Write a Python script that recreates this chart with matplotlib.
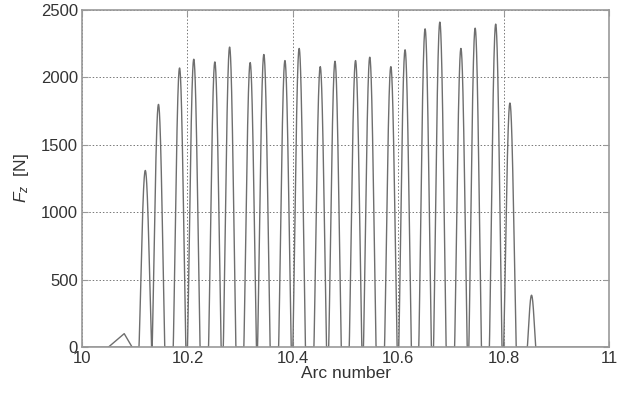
import numpy as np
import matplotlib.pyplot as plt

plt.rcParams['font.family'] = ['Liberation Sans', 'DejaVu Sans']
plt.rcParams['mathtext.fontset'] = 'custom'
plt.rcParams['mathtext.rm'] = 'Liberation Sans'
plt.rcParams['mathtext.it'] = 'Liberation Sans:italic'

# pulse peaks
peak_x = [10.120, 10.145, 10.185, 10.212, 10.252, 10.280, 10.319, 10.345,
          10.385, 10.412, 10.452, 10.480, 10.519, 10.546, 10.586, 10.613,
          10.651, 10.679, 10.719, 10.746, 10.785, 10.812, 10.853]
peak_y = [1310, 1800, 2070, 2135, 2115, 2225, 2110, 2170,
          2125, 2215, 2080, 2120, 2125, 2150, 2080, 2205,
          2360, 2410, 2215, 2365, 2395, 1810, 385]
pulse_width = [0.024] * 22 + [0.016]

# small triangle before the first pulse
tri_x = [10.050, 10.080, 10.095]
tri_y = [0, 100, 0]

xs = np.linspace(10, 11, 8001)
fz = np.zeros_like(xs)
for px, py, w in zip(peak_x, peak_y, pulse_width):
    t = (xs - (px - w / 2)) / w
    inside = (t >= 0) & (t <= 1)
    fz[inside] = np.maximum(fz[inside], py * np.sin(np.pi * t[inside]) ** 1.2)

fig = plt.figure(figsize=(6.17, 3.99), dpi=100)
ax = fig.add_axes([0.133, 0.130, 0.854, 0.845])

line_col = '#6e6e6e'
ax.plot(xs, fz, color=line_col, linewidth=1.0)
ax.plot(tri_x, tri_y, color=line_col, linewidth=1.0)

ax.set_xlim(10, 11)
ax.set_ylim(0, 2500)
ax.set_xticks([10, 10.2, 10.4, 10.6, 10.8, 11])
ax.set_xticklabels(['10', '10.2', '10.4', '10.6', '10.8', '11'])
ax.set_yticks([0, 500, 1000, 1500, 2000, 2500])

ax.grid(True, linestyle=(0, (1.5, 2)), color='#777777', linewidth=0.7)
for s in ax.spines.values():
    s.set_color('#999999')
    s.set_linewidth(1.2)
ax.tick_params(direction='in', top=True, right=True, length=4,
               color='#999999', labelsize=12, labelcolor='#333333')
ax.tick_params(axis='x', pad=3)
ax.tick_params(axis='y', pad=3)

ax.set_xlabel('Arc number', fontsize=12.5, color='#333333', labelpad=0)
ax.set_ylabel('$F_z$  [N]', fontsize=12.5, color='#333333', labelpad=7)

fig.savefig('out.png', dpi=100)
